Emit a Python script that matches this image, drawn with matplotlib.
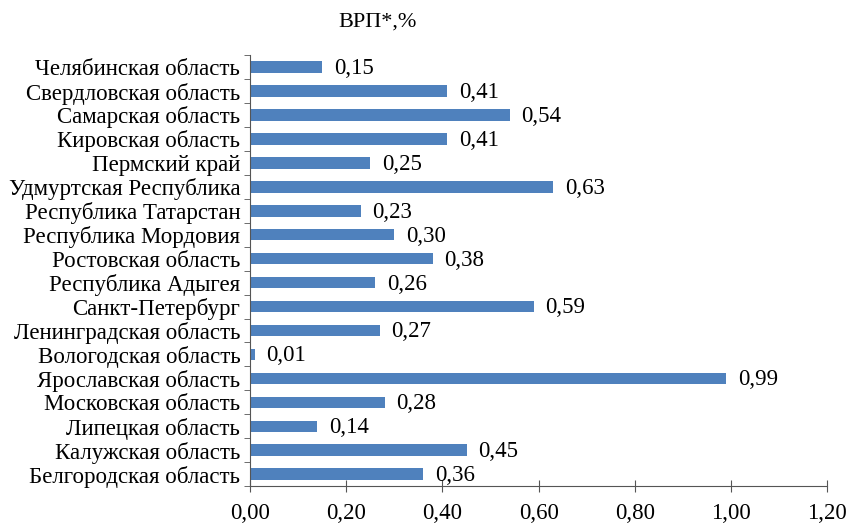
import matplotlib
matplotlib.use("Agg")
import matplotlib.pyplot as plt
import numpy as np

# regions, top to bottom as in the picture
regions = ["Челябинская область", "Свердловская область", "Самарская область",
           "Кировская область", "Пермский край", "Удмуртская Республика",
           "Республика Татарстан", "Республика Мордовия", "Ростовская область",
           "Республика Адыгея", "Санкт-Петербург", "Ленинградская область",
           "Вологодская область", "Ярославская область", "Московская область",
           "Липецкая область", "Калужская область", "Белгородская область"]
grp = [0.15, 0.41, 0.54, 0.41, 0.25, 0.63, 0.23, 0.30, 0.38,
       0.26, 0.59, 0.27, 0.01, 0.99, 0.28, 0.14, 0.45, 0.36]
xticks = [0.0, 0.2, 0.4, 0.6, 0.8, 1.0, 1.2]

plt.rcParams['font.family'] = ['Liberation Serif', 'DejaVu Serif']
fs = 16.5

fig = plt.figure(figsize=(8.49, 5.25), dpi=100)
ax = fig.add_axes([0.2945, 0.074, 0.68, 0.821])

n = len(regions)
ypos = np.arange(n)[::-1]
ax.barh(ypos, grp, height=0.48, color='#4F81BD')

for y, v in zip(ypos, grp):
    ax.text(v + 0.024, y - 0.06, ('%.2f' % v).replace('.', ','),
            va='center', ha='left', fontsize=fs)

ax.set_ylim(-0.5, n - 0.5)
ax.set_xlim(0, 1.2)
ax.set_yticks(ypos)
ax.set_yticklabels(regions, fontsize=fs)
ax.tick_params(axis='y', length=0, pad=7)
ax.set_yticks(np.arange(n + 1) - 0.5, minor=True)
ax.tick_params(axis='y', which='minor', length=4, direction='out', color='#555555')

ax.set_xticks(xticks)
ax.set_xticklabels([('%.2f' % t).replace('.', ',') for t in xticks], fontsize=fs)
ax.tick_params(axis='x', direction='inout', length=8, color='#555555', pad=8)

for s in ['top', 'right']:
    ax.spines[s].set_visible(False)
for s in ['left', 'bottom']:
    ax.spines[s].set_color('#555555')

fig.text(0.445, 0.958, 'ВРП*,%', ha='center', va='center', fontsize=16)

fig.savefig('out.png', dpi=100)
